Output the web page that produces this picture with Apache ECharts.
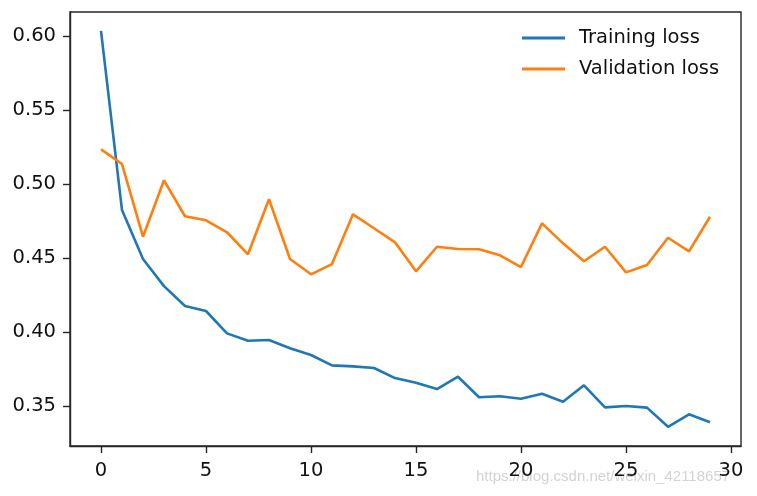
<!DOCTYPE html>
<html>
<head>
<meta charset="utf-8">
<script src="https://cdn.jsdelivr.net/npm/echarts@6/dist/echarts.min.js"></script>
<style>html,body{margin:0;padding:0;background:#fff;}#c{width:757px;height:496px;}</style>
</head>
<body>
<div id="c"></div>
<script>
var epochs = [0,1,2,3,4,5,6,7,8,9,10,11,12,13,14,15,16,17,18,19,20,21,22,23,24,25,26,27,28,29];
var trainingLoss = [0.6034,0.4824,0.4493,0.4310,0.4176,0.4142,0.3991,0.3941,0.3946,0.3890,0.3845,0.3775,0.3768,0.3757,0.3689,0.3658,0.3615,0.3698,0.3559,0.3566,0.3549,0.3583,0.3529,0.3640,0.3491,0.3500,0.3489,0.3360,0.3444,0.3390];
var validationLoss = [0.5234,0.5135,0.4644,0.5025,0.4782,0.4755,0.4674,0.4525,0.4897,0.4493,0.4390,0.4459,0.4795,0.4701,0.4606,0.4410,0.4576,0.4561,0.4559,0.4518,0.4439,0.4734,0.4599,0.4478,0.4576,0.4403,0.4453,0.4637,0.4545,0.4779];
var xTicks = [0,5,10,15,20,25,30];
var yTicks = [0.35,0.40,0.45,0.50,0.55,0.60];
var seriesNames = ['Training loss','Validation loss'];
var watermark = 'https://blog.csdn.net/weixin_42118657';

function pairs(ys){ return epochs.map(function(x,i){ return [x, ys[i]]; }); }

var chart = echarts.init(document.getElementById('c'), null, {renderer:'canvas'});
var axisColor = '#262626';
var font = 'DejaVu Sans';
var fs = 19.5;
chart.setOption({
  animation: false,
  backgroundColor: '#fff',
  grid: {left:70, right:16, top:12, bottom:50, show:true, borderColor:axisColor, borderWidth:1.4, backgroundColor:'transparent'},
  legend: {
    orient:'vertical', left:522, top:27, padding:0, itemWidth:43, itemHeight:3, itemGap:9,
    textStyle:{fontFamily:font, fontSize:fs, color:'#111', padding:[0,0,0,9], lineHeight:22},
    data: seriesNames.map(function(n){ return {name:n, icon:'rect'}; })
  },
  xAxis: {
    type:'value', min:-1.476, max:30.476,
    axisLine:{show:true, onZero:false, lineStyle:{color:axisColor, width:1.4}},
    axisTick:{show:true, length:7, customValues:xTicks, lineStyle:{color:axisColor, width:1.4}},
    axisLabel:{customValues:xTicks, margin:15, fontFamily:font, fontSize:fs, color:'#111'},
    splitLine:{show:false}
  },
  yAxis: {
    type:'value', min:0.3230, max:0.6162,
    axisLine:{show:true, onZero:false, lineStyle:{color:axisColor, width:1.4}},
    axisTick:{show:true, length:7, customValues:yTicks, lineStyle:{color:axisColor, width:1.4}},
    axisLabel:{customValues:yTicks, margin:14, fontFamily:font, fontSize:fs, color:'#111', formatter:function(v){return v.toFixed(2);}},
    splitLine:{show:false}
  },
  series: [
    {name:seriesNames[0], type:'line', data:pairs(trainingLoss), symbol:'none', lineStyle:{color:'#1f77b4', width:2.6}, itemStyle:{color:'#1f77b4'}},
    {name:seriesNames[1], type:'line', data:pairs(validationLoss), symbol:'none', lineStyle:{color:'#ff7f0e', width:2.6}, itemStyle:{color:'#ff7f0e'}}
  ],
  graphic: [{
    type:'text', left:476, top:469,
    style:{text:watermark, fontFamily:'Liberation Sans', fontSize:15, fill:'rgba(200,200,200,0.8)'}
  }]
});
</script>
</body>
</html>
